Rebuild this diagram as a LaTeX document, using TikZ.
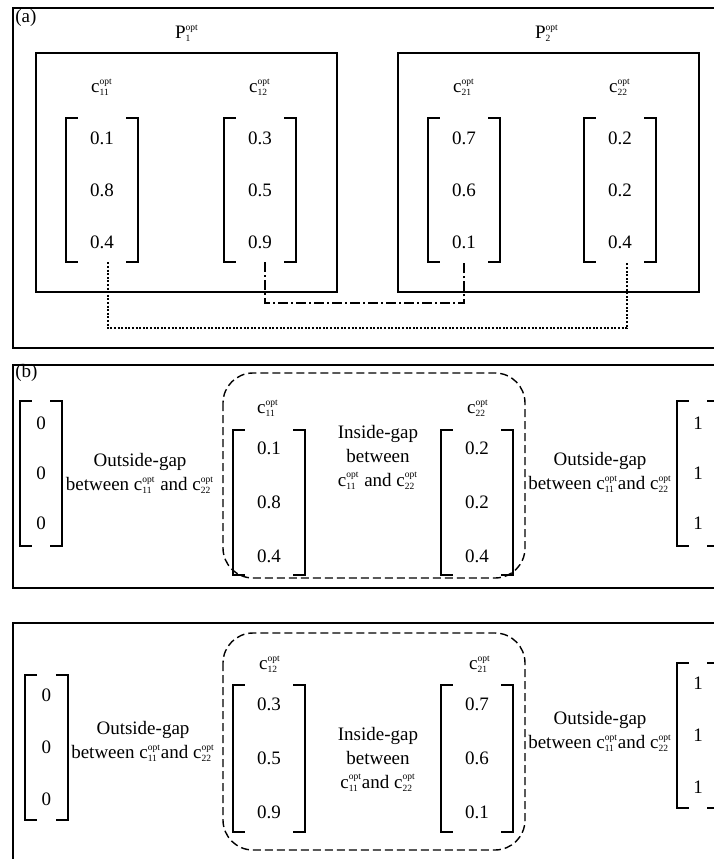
\documentclass[tikz,border=0pt]{standalone}
\usepackage{fontspec}
\setmainfont{Liberation Serif}
\usepackage{amsmath}

\newcommand{\copt}[1]{c$^{\scriptscriptstyle\text{opt}}_{\scriptscriptstyle\text{#1}}$}
\newcommand{\popt}[1]{P$^{\scriptscriptstyle\text{opt}}_{\scriptscriptstyle\text{#1}}$}
\newcommand{\bracketpair}[1]{%
  \draw[line width=1pt] ([xshift=6pt]#1.north west) -- (#1.north west)
    -- (#1.south west) -- ([xshift=6pt]#1.south west);
  \draw[line width=1pt] ([xshift=-6pt]#1.north east) -- (#1.north east)
    -- (#1.south east) -- ([xshift=-6pt]#1.south east);}

\tikzset{
  panel/.style={line width=1pt},
  vec/.style={minimum width=36pt, minimum height=72pt, inner sep=0pt, align=center},
  zvec/.style={vec, minimum width=21pt},
  gapbox/.style={line width=0.7pt, dash pattern=on 4pt off 2pt, rounded corners=15pt},
  gaptext/.style={align=center, inner sep=1pt}
}

\begin{document}
\begin{tikzpicture}[x=0.5pt, y=-0.5pt, font=\fontsize{9.5}{12}\selectfont]
  \useasboundingbox (0,0) rectangle (714,859);
  \clip (0,0) rectangle (714,859);

  % (a)
  \draw[panel] (13,8) rectangle (760,348);
  \node[anchor=west, inner sep=1pt] (taga) at (13,18) {(a)};
  \draw[panel] (36,53) rectangle (337,292);
  \draw[panel] (398,53) rectangle (699,292);
  \node (p1) at (187,33) {\popt{1}};
  \node (p2) at (547,33) {\popt{2}};
  \node (l11) at (102,87) {\copt{11}};
  \node (l12) at (260,87) {\copt{12}};
  \node (l21) at (464,87) {\copt{21}};
  \node (l22) at (620,87) {\copt{22}};
  \node[vec] (v11) at (102,190) {0.1\\[14pt]0.8\\[14pt]0.4};
  \node[vec] (v12) at (260,190) {0.3\\[14pt]0.5\\[14pt]0.9};
  \node[vec] (v21) at (464,190) {0.7\\[14pt]0.6\\[14pt]0.1};
  \node[vec] (v22) at (620,190) {0.2\\[14pt]0.2\\[14pt]0.4};
  \draw[line width=1pt, dash pattern=on 1pt off 0.8pt]
    ([xshift=3pt]v11.south) -- ++(0,66) -| ([xshift=3.5pt]v22.south);
  \draw[line width=1pt, dash pattern=on 5pt off 1.5pt on 1pt off 1.5pt]
    ([xshift=2.5pt]v12.south) -- ++(0,41) -| (v21.south);

  % (b)
  \draw[panel] (13,365) rectangle (760,588);
  \node[anchor=west, inner sep=1pt] (tagb) at (13,373) {(b)};
  \node[zvec] (zb) at (41,473.5) {0\\[13pt]0\\[13pt]0};
  \node[gaptext] (ogb1) at (140,473.5) {Outside-gap\\between \copt{11} and \copt{22}};
  \draw[gapbox] (223,373) rectangle (525,578);
  \node (lb1) at (268,408) {\copt{11}};
  \node (lb2) at (478,408) {\copt{22}};
  \node[vec] (vb1) at (269,502.5) {0.1\\[15pt]0.8\\[15pt]0.4};
  \node[vec] (vb2) at (477,502.5) {0.2\\[15pt]0.2\\[15pt]0.4};
  \node[gaptext] (igb) at (378,457) {Inside-gap\\between\\\copt{11} and \copt{22}};
  \node[gaptext] (ogb2) at (600,472.5) {Outside-gap\\between \copt{11}and \copt{22}};
  \node[zvec] (ob) at (698,473.5) {1\\[13pt]1\\[13pt]1};

  % (c)
  \draw[panel] (13,623) rectangle (760,900);
  \node[zvec] (zc) at (46.5,747.5) {0\\[14pt]0\\[14pt]0};
  \node[gaptext] (ogc1) at (143,741.5) {Outside-gap\\between \copt{11}and \copt{22}};
  \draw[gapbox] (223,633) rectangle (525,850);
  \node (lc1) at (270,664) {\copt{12}};
  \node (lc2) at (480,664) {\copt{21}};
  \node[vec, minimum height=73.5pt] (vc1) at (269,758.5) {0.3\\[15pt]0.5\\[15pt]0.9};
  \node[vec, minimum height=73.5pt] (vc2) at (477,758.5) {0.7\\[15pt]0.6\\[15pt]0.1};
  \node[gaptext] (igc) at (378,759) {Inside-gap\\between\\\copt{11}and \copt{22}};
  \node[gaptext] (ogc2) at (600,731.5) {Outside-gap\\between \copt{11}and \copt{22}};
  \node[zvec] (oc) at (698,735.5) {1\\[14pt]1\\[14pt]1};

  \foreach \v in {v11,v12,v21,v22,zb,vb1,vb2,ob,zc,vc1,vc2,oc}
    {\bracketpair{\v}}
\end{tikzpicture}
\end{document}
